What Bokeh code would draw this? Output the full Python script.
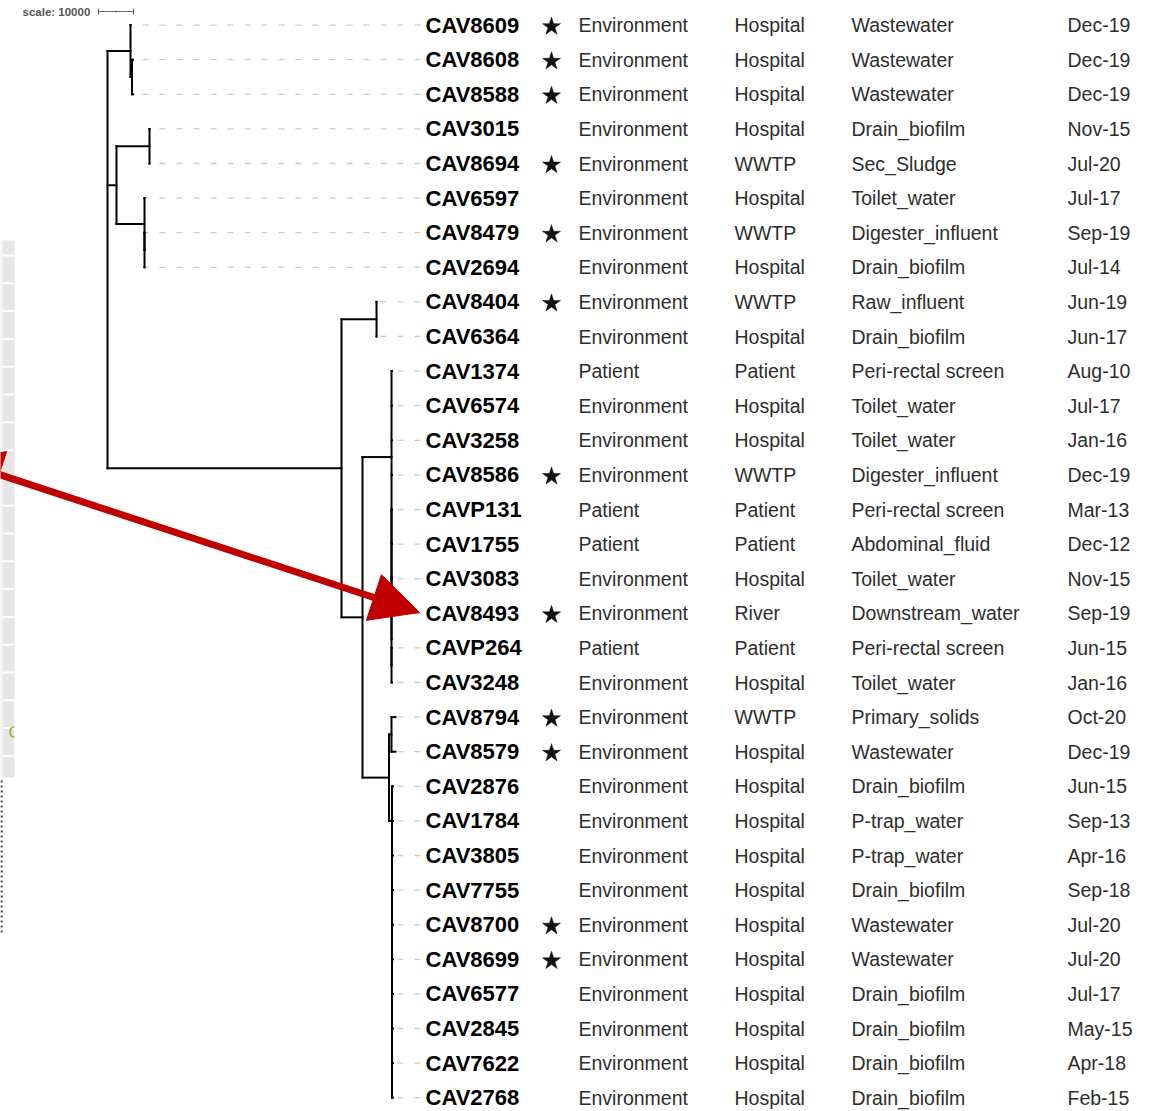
import numpy as np
from bokeh.plotting import figure
from bokeh.models import ColumnDataSource, Range1d, Arrow, NormalHead
from bokeh.embed import file_html
from bokeh.resources import INLINE
from bokeh.core.properties import value

# ---------------- data ----------------
ids = ["CAV8609", "CAV8608", "CAV8588", "CAV3015", "CAV8694", "CAV6597", "CAV8479", "CAV2694",
       "CAV8404", "CAV6364", "CAV1374", "CAV6574", "CAV3258", "CAV8586", "CAVP131", "CAV1755",
       "CAV3083", "CAV8493", "CAVP264", "CAV3248", "CAV8794", "CAV8579", "CAV2876", "CAV1784",
       "CAV3805", "CAV7755", "CAV8700", "CAV8699", "CAV6577", "CAV2845", "CAV7622", "CAV2768"]
starred = [1, 1, 1, 0, 1, 0, 1, 0,
           1, 0, 0, 0, 0, 1, 0, 0,
           0, 1, 0, 0, 1, 1, 0, 0,
           0, 0, 1, 1, 0, 0, 0, 0]
origin = ["Environment", "Environment", "Environment", "Environment", "Environment", "Environment",
          "Environment", "Environment", "Environment", "Environment", "Patient", "Environment",
          "Environment", "Environment", "Patient", "Patient", "Environment", "Environment",
          "Patient", "Environment", "Environment", "Environment", "Environment", "Environment",
          "Environment", "Environment", "Environment", "Environment", "Environment", "Environment",
          "Environment", "Environment"]
site = ["Hospital", "Hospital", "Hospital", "Hospital", "WWTP", "Hospital", "WWTP", "Hospital",
        "WWTP", "Hospital", "Patient", "Hospital", "Hospital", "WWTP", "Patient", "Patient",
        "Hospital", "River", "Patient", "Hospital", "WWTP", "Hospital", "Hospital", "Hospital",
        "Hospital", "Hospital", "Hospital", "Hospital", "Hospital", "Hospital", "Hospital", "Hospital"]
sample = ["Wastewater", "Wastewater", "Wastewater", "Drain_biofilm", "Sec_Sludge", "Toilet_water",
          "Digester_influent", "Drain_biofilm", "Raw_influent", "Drain_biofilm", "Peri-rectal screen",
          "Toilet_water", "Toilet_water", "Digester_influent", "Peri-rectal screen", "Abdominal_fluid",
          "Toilet_water", "Downstream_water", "Peri-rectal screen", "Toilet_water", "Primary_solids",
          "Wastewater", "Drain_biofilm", "P-trap_water", "P-trap_water", "Drain_biofilm", "Wastewater",
          "Wastewater", "Drain_biofilm", "Drain_biofilm", "Drain_biofilm", "Drain_biofilm"]
dates = ["Dec-19", "Dec-19", "Dec-19", "Nov-15", "Jul-20", "Jul-17", "Sep-19", "Jul-14",
         "Jun-19", "Jun-17", "Aug-10", "Jul-17", "Jan-16", "Dec-19", "Mar-13", "Dec-12",
         "Nov-15", "Sep-19", "Jun-15", "Jan-16", "Oct-20", "Dec-19", "Jun-15", "Sep-13",
         "Apr-16", "Sep-18", "Jul-20", "Jul-20", "Jul-17", "May-15", "Apr-18", "Feb-15"]

scale_units = 10000
scale_label = "scale: 10000"

clade_a = "(CAV8609:0,(CAV8608:290,CAV8588:290):430):6570"
clade_b = "((CAV3015:0,CAV8694:0):9430,(CAV6597:0,(CAV8479:0,CAV2694:0):0):8000):2570"
clade_e = ("(CAV1374:140,CAV6574:140,CAV3258:140,CAV8586:140,(CAVP131:140,(CAV1755:140,"
           "(CAV3083:140,(CAV8493:140,(CAVP264:140,CAV3248:140):0):0):0):0):0):8290")
clade_h = ("(CAV2876:290,(CAV1784:290,(CAV3805:290,(CAV7755:290,(CAV8700:290,(CAV8699:290,"
           "(CAV6577:290,(CAV2845:290,(CAV7622:290,CAV2768:290):0):0):0):0):0):0):0):0):860")
clade_f = "((CAV8794:1140,CAV8579:1140):710," + clade_h + "):7570"
clade_c = "((CAV8404:0,CAV6364:0):10000,(" + clade_e + "," + clade_f + "):6000):66860"
newick = "(" + clade_a + "," + clade_b + "," + clade_c + ");"

# ---------------- layout constants ----------------
W, H = 1155, 1111
ROW0, ROW_H = 24.6, 34.6
ROOT_X = 107.0
PX_PER_UNIT = 35.0 / 10000.0
DASH_END = 420.0
COL_ID, COL_STAR, COL_ORIG, COL_SITE, COL_SAMPLE, COL_DATE = 425, 551, 578, 734, 851, 1067


def parse_newick(s):
    pos = 0

    def node():
        nonlocal pos
        children = []
        if s[pos] == "(":
            pos += 1
            while True:
                children.append(node())
                if s[pos] == ",":
                    pos += 1
                    continue
                if s[pos] == ")":
                    pos += 1
                    break
        start = pos
        while pos < len(s) and s[pos] not in ":,();":
            pos += 1
        name = s[start:pos]
        length = 0.0
        if pos < len(s) and s[pos] == ":":
            pos += 1
            start = pos
            while s[pos] not in ",();":
                pos += 1
            length = float(s[start:pos])
        return {"name": name, "children": children, "length": length}

    return node()


tree = parse_newick(newick)
row_of = {n: i for i, n in enumerate(ids)}


def layout(nd, dist):
    nd["x"] = ROOT_X + dist * PX_PER_UNIT
    if nd["children"]:
        for c in nd["children"]:
            layout(c, dist + c["length"])
        nd["y"] = (nd["children"][0]["y"] + nd["children"][-1]["y"]) / 2.0
    else:
        nd["y"] = ROW0 + ROW_H * row_of[nd["name"]]


layout(tree, 0.0)

hx0, hx1, hy0, hy1 = [], [], [], []
tips = {}


def collect(nd):
    if nd["children"]:
        hx0.append(nd["x"]); hx1.append(nd["x"])
        hy0.append(nd["children"][0]["y"]); hy1.append(nd["children"][-1]["y"])
        for c in nd["children"]:
            hx0.append(nd["x"]); hx1.append(c["x"])
            hy0.append(c["y"]); hy1.append(c["y"])
            collect(c)
    else:
        tips[nd["name"]] = (nd["x"], nd["y"])


collect(tree)

tip_x = [tips[n][0] for n in ids]
row_y = [ROW0 + ROW_H * i for i in range(len(ids))]

p = figure(width=W, height=H, x_range=Range1d(0, W), y_range=Range1d(H, 0),
           output_backend="svg", toolbar_location=None, min_border=0)
p.axis.visible = False
p.grid.visible = False
p.outline_line_color = None
p.background_fill_color = "white"
p.border_fill_color = "white"

# left-hand fragment of a neighbouring panel
p.quad(left=0, right=14, bottom=777, top=240, fill_color="#e6e6e6", line_color=None)
sep_y = list(np.arange(255, 770, 27.8))
p.segment(x0=[0] * len(sep_y), x1=[14] * len(sep_y), y0=sep_y, y1=sep_y,
          line_color="white", line_width=2)
p.segment(x0=[1.5], x1=[1.5], y0=[240], y1=[777], line_color="#f2f2f2", line_width=2)
p.text(x=[8], y=[732], text=["C"], text_color="#a3a32e", text_font_size="17px",
       text_baseline="middle", text_align="left", text_font=value("Liberation Sans"))
p.quad(left=14, right=40, bottom=760, top=700, fill_color="white", line_color=None)
p.segment(x0=[1], x1=[1], y0=[780], y1=[935], line_color="#555555", line_width=2.5,
          line_dash="2 3")

# scale bar
sb_x0 = 98.0
sb_x1 = sb_x0 + scale_units * PX_PER_UNIT
p.segment(x0=[sb_x0, sb_x0, sb_x1, (sb_x0 + sb_x1) / 2], x1=[sb_x1, sb_x0, sb_x1, (sb_x0 + sb_x1) / 2],
          y0=[11, 8, 8, 10], y1=[11, 14, 14, 12], line_color="#666666", line_width=1.2)
p.text(x=[22], y=[11], text=[scale_label], text_color="#555555", text_font_size="11.5px",
       text_font_style="bold", text_baseline="middle", text_align="left",
       text_font=value("Liberation Sans"))

# dashed leaders (drawn from the label side so dashes line up)
p.segment(x0=[DASH_END] * len(ids), x1=tip_x, y0=row_y, y1=row_y,
          line_color="#cccccc", line_width=1.3, line_dash="6 11")

# tree branches
p.segment(x0=hx0, x1=hx1, y0=hy0, y1=hy1, line_color="#000000", line_width=2,
          line_cap="square")

src = ColumnDataSource(dict(y=row_y, ids=ids, origin=origin, site=site, sample=sample, dates=dates))
p.text(x=COL_ID, y="y", text="ids", source=src, text_color="#000000", text_font_size="22px",
       text_font_style="bold", text_baseline="middle", text_align="left",
       text_font=value("Liberation Sans"))
for col, xx in [("origin", COL_ORIG), ("site", COL_SITE), ("sample", COL_SAMPLE), ("dates", COL_DATE)]:
    p.text(x=xx, y="y", text=col, source=src, text_color="#2e2e2e", text_font_size="19.5px",
           text_baseline="middle", text_align="left", text_font=value("Liberation Sans"))

star_y = [row_y[i] + 1.5 for i in range(len(ids)) if starred[i]]
p.scatter(x=[COL_STAR] * len(star_y), y=star_y, marker="star", size=19,
          fill_color="#111111", line_color="#111111", line_width=0.5)

# red annotation arrow
red = "#c00000"
p.add_layout(Arrow(start=NormalHead(size=48, fill_color=red, line_color=red),
                   end=NormalHead(size=48, fill_color=red, line_color=red),
                   x_start=-47, y_start=459, x_end=419, y_end=612,
                   line_color=red, line_width=7))

open("out.html", "w").write(file_html(p, INLINE))
